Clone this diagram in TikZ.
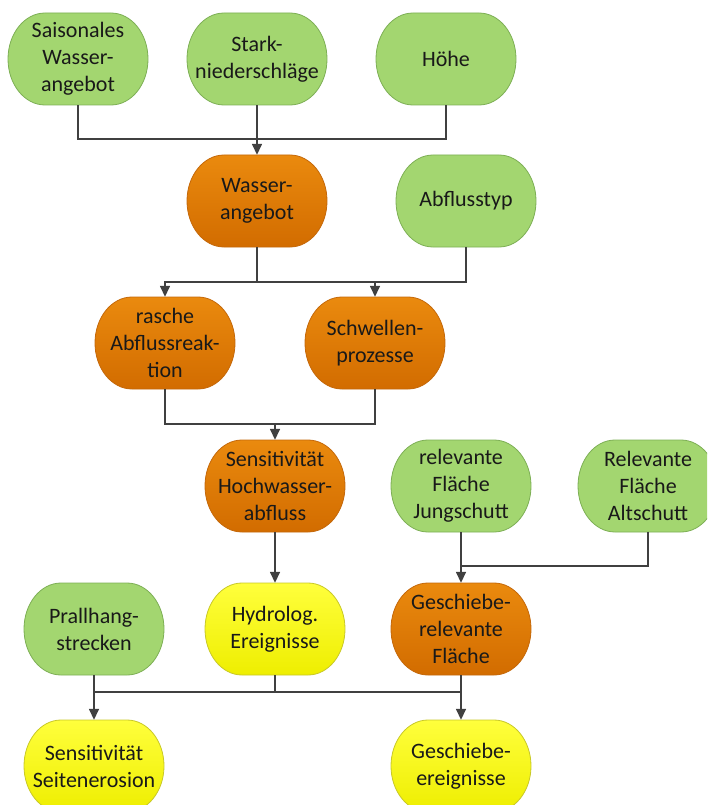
\documentclass[tikz,border=0pt]{standalone}
\usepackage{fontspec}
\setmainfont{Carlito}
\usetikzlibrary{arrows.meta}
\definecolor{gfill}{RGB}{163,214,112}
\definecolor{gline}{RGB}{125,175,85}
\definecolor{otop}{RGB}{234,138,14}
\definecolor{obot}{RGB}{210,108,0}
\definecolor{oline}{RGB}{196,104,10}
\definecolor{ytop}{RGB}{255,255,60}
\definecolor{ybot}{RGB}{238,238,0}
\definecolor{yline}{RGB}{200,200,40}
\definecolor{conn}{RGB}{64,64,64}
\tikzset{
  greenbox/.style={fill=gfill,draw=gline,line width=0.8pt},
  orangebox/.style={top color=otop,bottom color=obot,draw=oline,line width=0.8pt},
  yellowbox/.style={top color=ytop,bottom color=ybot,draw=yline,line width=0.8pt},
  txt/.style={rectangle,minimum width=140pt,minimum height=92pt,inner sep=0pt,align=center,
    font=\fontsize{22}{27}\selectfont,text=black!90},
  conline/.style={draw=conn,line width=1.5pt},
  arr/.style={conline,-{Triangle[width=10pt,length=11pt]}},
}
\newcommand\tbox[5]{%
  \begin{scope}[shift={(#2,#3)}]
    \path[#4] (-33,-46) -- (33,-46)
      arc[start angle=-90,end angle=90,x radius=37,y radius=46]
      -- (-33,46)
      arc[start angle=90,end angle=270,x radius=37,y radius=46] -- cycle;
  \end{scope}
  \node[txt] (#1) at (#2,#3) {#5};
}
\begin{document}
\begin{tikzpicture}[x=1pt,y=-1pt]
\useasboundingbox (0,0) rectangle (707,805);
\clip (0,0) rectangle (707,805);
% nodes
\tbox{sais}{78}{59}{greenbox}{Saisonales\\Wasser-\\angebot}
\tbox{stark}{257}{59}{greenbox}{Stark-\\niederschläge}
\tbox{hoehe}{446}{59}{greenbox}{Höhe}
\tbox{wasser}{257}{201}{orangebox}{Wasser-\\angebot}
\tbox{abfl}{466}{201}{greenbox}{Abflusstyp}
\tbox{rasche}{165}{343}{orangebox}{rasche\\Abflussreak-\\tion}
\tbox{schw}{375}{343}{orangebox}{Schwellen-\\prozesse}
\tbox{sensh}{275}{486}{orangebox}{Sensitivität\\Hochwasser-\\abfluss}
\tbox{jung}{461}{486}{greenbox}{relevante\\Fläche\\Jungschutt}
\tbox{alt}{648}{486}{greenbox}{Relevante\\Fläche\\Altschutt}
\tbox{prall}{94}{629}{greenbox}{Prallhang-\\strecken}
\tbox{hydro}{275}{629}{yellowbox}{Hydrolog.\\Ereignisse}
\tbox{gesch}{461}{629}{orangebox}{Geschiebe-\\relevante\\Fläche}
\tbox{seit}{94}{766}{yellowbox}{Sensitivität\\Seitenerosion}
\tbox{gerei}{461}{766}{yellowbox}{Geschiebe-\\ereignisse}
% junctions
\coordinate (j1) at (257,139);
\coordinate (j2) at (257,282);
\coordinate (j3) at (275,424);
\coordinate (j4) at (461,566);
\coordinate (j5) at (275,692);
% connectors
\draw[conline] (sais.south) |- (j1);
\draw[conline] (hoehe.south) |- (j1);
\draw[arr] (stark.south) -- (wasser.north);
\draw[conline] (wasser.south) -- (j2);
\draw[arr] (j2) -| (rasche.north);
\draw[conline] (abfl.south) |- (j2);
\draw[arr] (schw.north |- j2) -- (schw.north);
\draw[conline] (rasche.south) |- (j3);
\draw[conline] (schw.south) |- (j3);
\draw[arr] (j3) -- (sensh.north);
\draw[arr] (sensh.south) -- (hydro.north);
\draw[arr] (jung.south) -- (gesch.north);
\draw[conline] (alt.south) |- (j4);
\draw[conline] (hydro.south) -- (j5);
\draw[conline] (prall.south |- j5) -- (gesch.south |- j5);
\draw[arr] (prall.south) -- (seit.north);
\draw[arr] (gesch.south) -- (gerei.north);
\end{tikzpicture}
\end{document}
